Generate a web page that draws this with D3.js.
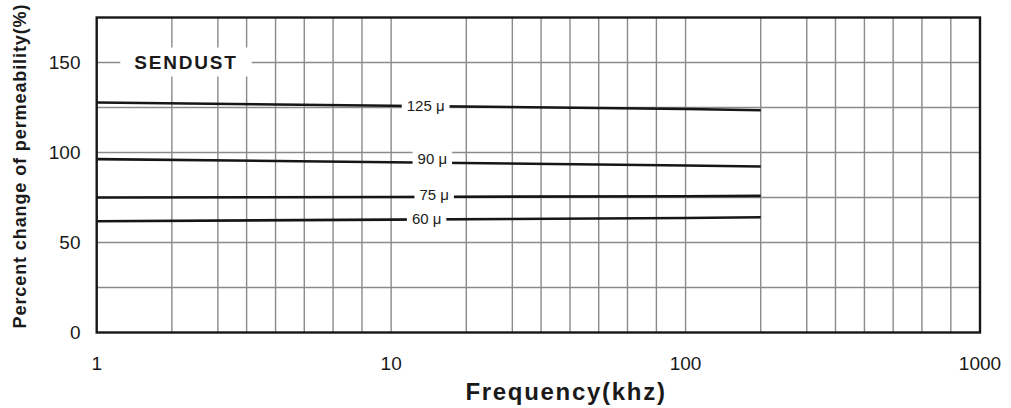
<!DOCTYPE html>
<html>
<head>
<meta charset="utf-8">
<script src="https://cdn.jsdelivr.net/npm/d3@7"></script>
<style>
  body { margin: 0; background: #fff; }
  svg { display: block; }
</style>
</head>
<body>
<svg id="chart" width="1011" height="408"></svg>
<script>
// Permeability vs. frequency for Sendust cores
const seriesNames = ["125 μ", "90 μ", "75 μ", "60 μ"];
const frequencies = [1, 10, 100, 180];
const perm125 = [127.8, 126.0, 124.2, 123.5];
const perm90  = [96.3, 94.6, 92.8, 92.2];
const perm75  = [75.0, 75.3, 75.7, 75.9];
const perm60  = [61.8, 62.7, 63.6, 64.0];
const labelFreqs = [13.1, 13.8, 14.0, 13.2];

const xTickValues = [1, 10, 100, 1000];
const yTickValues = [0, 50, 100, 150];
const yGridValues = [25, 50, 75, 100, 125, 150];
const decadeStarts = [1, 10, 100];
const gridSteps = [1.8, 2.58, 3.23, 4.05, 5.07, 6.35, 7.96];

const series = [perm125, perm90, perm75, perm60];

const W = 1011, H = 408;
const margin = { left: 96.7, top: 17.5, right: 31, bottom: 75.5 };
const x = d3.scaleLog().domain([1, 1000]).range([margin.left, W - margin.right]);
const y = d3.scaleLinear().domain([0, 175]).range([H - margin.bottom, margin.top]);

const svg = d3.select("#chart");
const font = "'Liberation Sans', Arial, Helvetica, sans-serif";
const gridColor = "#8a8a8a";

// vertical grid: decade lines plus intermediate lines
const vGrid = [];
decadeStarts.forEach(d => {
  if (d > 1) vGrid.push(d);
  gridSteps.forEach(s => vGrid.push(d * s));
});
svg.append("g").selectAll("line").data(vGrid).join("line")
  .attr("x1", d => x(d)).attr("x2", d => x(d))
  .attr("y1", y(175)).attr("y2", y(0))
  .attr("stroke", gridColor).attr("stroke-width", 1.4);

// horizontal grid
svg.append("g").selectAll("line").data(yGridValues).join("line")
  .attr("x1", x(1)).attr("x2", x(1000))
  .attr("y1", d => y(d)).attr("y2", d => y(d))
  .attr("stroke", gridColor).attr("stroke-width", 1.4);

// curves
const line = d3.line().x(d => x(d[0])).y(d => y(d[1]));
svg.append("g").selectAll("path").data(series).join("path")
  .attr("d", s => line(frequencies.map((f, i) => [f, s[i]])))
  .attr("fill", "none").attr("stroke", "#161616").attr("stroke-width", 2.6);

// value of a series at a frequency (linear in log-frequency)
function valueAt(s, f) {
  const lf = Math.log10(f);
  for (let i = 0; i < frequencies.length - 1; i++) {
    const a = Math.log10(frequencies[i]), b = Math.log10(frequencies[i + 1]);
    if (lf >= a && lf <= b) return s[i] + (s[i + 1] - s[i]) * (lf - a) / (b - a);
  }
  return s[s.length - 1];
}

// series labels on white boxes
const labelLift = [0.5, 4, 2.5, 0.5];
const lg = svg.append("g");
seriesNames.forEach((name, i) => {
  const cx = x(labelFreqs[i]);
  const cy = y(valueAt(series[i], labelFreqs[i])) - labelLift[i];
  const g = lg.append("g");
  const rect = g.append("rect").attr("fill", "#fff");
  const t = g.append("text")
    .attr("x", cx).attr("y", cy).attr("dy", "0.36em")
    .attr("text-anchor", "middle")
    .attr("font-family", font).attr("font-size", 15).attr("fill", "#1a1a1a")
    .text(name);
  const bb = t.node().getBBox();
  rect.attr("x", bb.x - 5).attr("width", bb.width + 10)
    .attr("y", cy - 10.5).attr("height", 21);
});

// title box
const tg = svg.append("g");
const titleRect = tg.append("rect").attr("fill", "#fff");
const title = tg.append("text")
  .attr("x", 186).attr("y", y(150)).attr("dy", "0.36em")
  .attr("text-anchor", "middle")
  .attr("font-family", font).attr("font-size", 19).attr("font-weight", "bold")
  .attr("letter-spacing", 1.8).attr("fill", "#1a1a1a")
  .text("SENDUST");
const tb = title.node().getBBox();
titleRect.attr("x", tb.x - 14).attr("width", tb.width + 28)
  .attr("y", y(150) - 15).attr("height", 29);

// frame
svg.append("rect")
  .attr("x", x(1)).attr("y", y(175))
  .attr("width", x(1000) - x(1)).attr("height", y(0) - y(175))
  .attr("fill", "none").attr("stroke", "#161616").attr("stroke-width", 2.4);

// y tick labels
svg.append("g").selectAll("text").data(yTickValues).join("text")
  .attr("x", 80.5).attr("y", d => y(d)).attr("dy", "0.36em")
  .attr("text-anchor", "end")
  .attr("font-family", font).attr("font-size", 19).attr("fill", "#1a1a1a")
  .text(d => d);

// x tick labels
svg.append("g").selectAll("text").data(xTickValues).join("text")
  .attr("x", d => x(d)).attr("y", 369.5)
  .attr("text-anchor", "middle")
  .attr("font-family", font).attr("font-size", 19).attr("fill", "#1a1a1a")
  .text(d => d);

// axis titles
svg.append("text")
  .attr("x", 566).attr("y", 400)
  .attr("text-anchor", "middle")
  .attr("font-family", font).attr("font-size", 24).attr("font-weight", "bold")
  .attr("letter-spacing", 1.7).attr("fill", "#1a1a1a")
  .text("Frequency(khz)");

svg.append("text")
  .attr("transform", "translate(26,166) rotate(-90)")
  .attr("text-anchor", "middle")
  .attr("font-family", font).attr("font-size", 18).attr("font-weight", "bold")
  .attr("letter-spacing", 0.9).attr("fill", "#1a1a1a")
  .text("Percent change of permeability(%)");
</script>
</body>
</html>
